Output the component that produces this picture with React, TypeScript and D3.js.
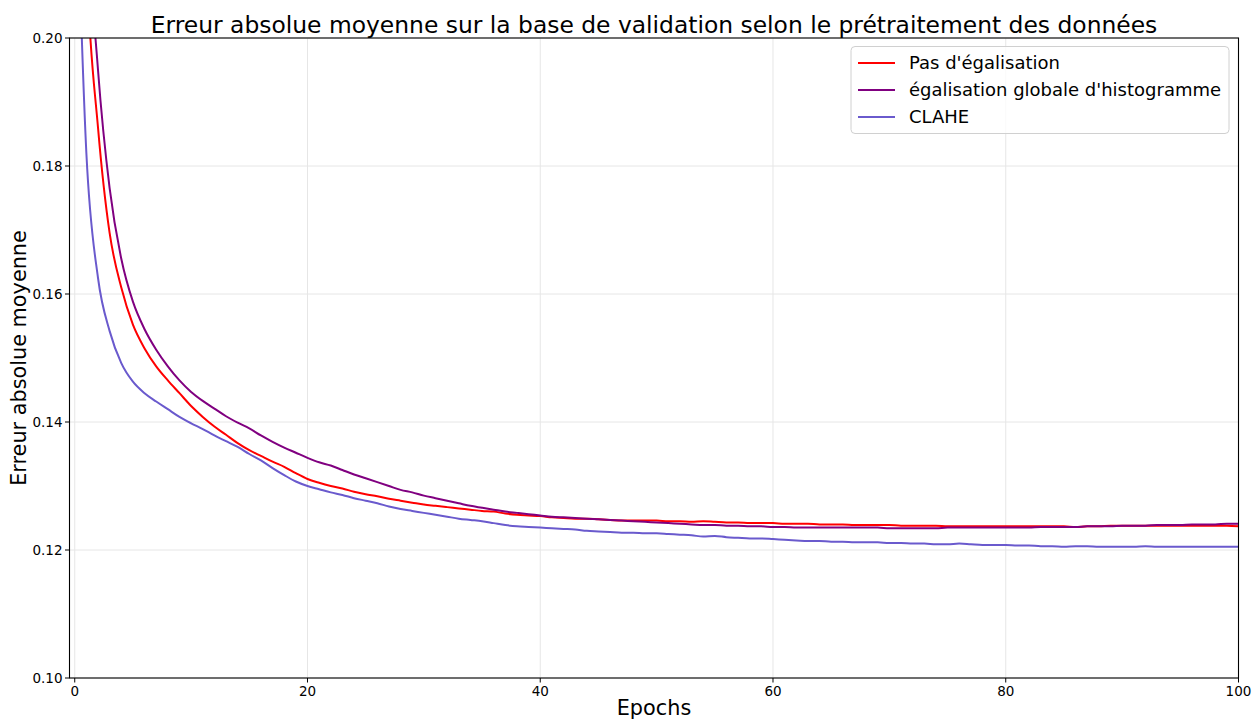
import * as d3 from "d3";

// Validation MAE per epoch for three preprocessing variants.
const epochs = d3.range(0, 101);

const pasEgalisation = [
  0.28, 0.212, 0.186, 0.1695, 0.161, 0.1552, 0.1515, 0.1487, 0.1465, 0.1445,
  0.1425, 0.1408, 0.1393, 0.138, 0.1367, 0.1356, 0.1347, 0.1338, 0.133, 0.132,
  0.1311, 0.1305, 0.13, 0.1296, 0.1291, 0.1287, 0.1284, 0.128, 0.1277, 0.1274,
  0.1271, 0.1269, 0.1267, 0.1265, 0.1263, 0.1261, 0.126, 0.1257, 0.1255, 0.1254,
  0.1253, 0.1251, 0.125, 0.1249, 0.1249, 0.1248, 0.1247, 0.1246, 0.1246, 0.1246,
  0.1246, 0.1245, 0.1245, 0.1244, 0.1245, 0.1244, 0.1243, 0.1243, 0.1242, 0.1242,
  0.1242, 0.1241, 0.1241, 0.1241, 0.124, 0.124, 0.124, 0.1239, 0.1239, 0.1239,
  0.1239, 0.1238, 0.1238, 0.1238, 0.1238, 0.1237, 0.1237, 0.1237, 0.1237, 0.1237,
  0.1237, 0.1237, 0.1237, 0.1237, 0.1237, 0.1237, 0.1236, 0.1237, 0.1237, 0.1238,
  0.1238, 0.1238, 0.1238, 0.1238, 0.1238, 0.1238, 0.1238, 0.1238, 0.1238, 0.1238,
  0.1237,
];

const egalisationGlobale = [
  0.3, 0.225, 0.195, 0.1765, 0.1655, 0.1588, 0.1545, 0.1513, 0.1487, 0.1465,
  0.1447, 0.1433, 0.1421, 0.1409, 0.1399, 0.139, 0.1379, 0.1369, 0.136, 0.1352,
  0.1344, 0.1337, 0.1332, 0.1325, 0.1318, 0.1312, 0.1306, 0.13, 0.1294, 0.129,
  0.1285, 0.1281, 0.1277, 0.1273, 0.1269, 0.1266, 0.1263, 0.126, 0.1258, 0.1256,
  0.1254, 0.1252, 0.1251, 0.125, 0.1249, 0.1248, 0.1247, 0.1246, 0.1245, 0.1244,
  0.1243, 0.1242, 0.1241, 0.124, 0.1239, 0.1239, 0.1238, 0.1238, 0.1237, 0.1237,
  0.1236, 0.1236, 0.1235, 0.1235, 0.1235, 0.1235, 0.1235, 0.1235, 0.1235, 0.1235,
  0.1234, 0.1234, 0.1234, 0.1234, 0.1234, 0.1235, 0.1235, 0.1235, 0.1235, 0.1235,
  0.1235, 0.1235, 0.1235, 0.1236, 0.1236, 0.1236, 0.1236, 0.1237, 0.1237, 0.1237,
  0.1238, 0.1238, 0.1238, 0.1239, 0.1239, 0.1239, 0.124, 0.124, 0.124, 0.1241,
  0.1241,
];

const clahe = [
  0.235, 0.182, 0.1625, 0.1542, 0.1492, 0.1463, 0.1445, 0.1432, 0.142, 0.1408,
  0.1398, 0.1389, 0.1379, 0.137, 0.1361, 0.135, 0.134, 0.1328, 0.1317, 0.1307,
  0.13, 0.1295, 0.129, 0.1286, 0.1281, 0.1277, 0.1273, 0.1268, 0.1264, 0.1261,
  0.1258, 0.1255, 0.1252, 0.1249, 0.1247, 0.1245, 0.1242, 0.1239, 0.1237, 0.1236,
  0.1235, 0.1234, 0.1233, 0.1232, 0.123, 0.1229, 0.1228, 0.1227, 0.1227, 0.1226,
  0.1226, 0.1225, 0.1224, 0.1223, 0.1221, 0.1222, 0.122, 0.1219, 0.1218, 0.1218,
  0.1217, 0.1216, 0.1215, 0.1214, 0.1214, 0.1213, 0.1213, 0.1212, 0.1212, 0.1212,
  0.1211, 0.1211, 0.121, 0.121, 0.1209, 0.1209, 0.121, 0.1209, 0.1208, 0.1208,
  0.1208, 0.1207, 0.1207, 0.1206, 0.1206, 0.1205, 0.1206, 0.1206, 0.1205, 0.1205,
  0.1205, 0.1205, 0.1206, 0.1205, 0.1205, 0.1205, 0.1205, 0.1205, 0.1205, 0.1205,
  0.1205,
];

const seriesNames = ["Pas d'égalisation", "égalisation globale d'histogramme", "CLAHE"];
const seriesColors = ["red", "purple", "slateblue"];
const seriesValues = [pasEgalisation, egalisationGlobale, clahe];

const xTicks = [0, 20, 40, 60, 80, 100];
const yTicks = [0.1, 0.12, 0.14, 0.16, 0.18, 0.2];

const W = 1253;
const H = 719;
const L = 69.5;
const R = 1238.5;
const T = 38;
const B = 678;
const FONT = "DejaVu Sans, sans-serif";

const x = d3.scaleLinear().domain([-0.45, 100]).range([L, R]);
const y = d3.scaleLinear().domain([0.1, 0.2]).range([B, T]);

const line = d3
  .line<number>()
  .x((_, i) => x(epochs[i]))
  .y((d) => y(d))
  .curve(d3.curveMonotoneX);

export default function App() {
  return (
    <svg width={W} height={H} viewBox={`0 0 ${W} ${H}`} style={{ display: "block", position: "absolute", left: 0, top: 0, background: "#fff" }} fontFamily={FONT}>
      <defs>
        <clipPath id="plot">
          <rect x={L} y={T} width={R - L} height={B - T} />
        </clipPath>
      </defs>

      {/* grid */}
      {xTicks.map((t) => (
        <line key={`gx${t}`} x1={x(t)} x2={x(t)} y1={T} y2={B} stroke="#e6e6e6" strokeWidth={1} />
      ))}
      {yTicks.map((t) => (
        <line key={`gy${t}`} x1={L} x2={R} y1={y(t)} y2={y(t)} stroke="#e6e6e6" strokeWidth={1} />
      ))}

      {/* series */}
      <g clipPath="url(#plot)">
        {seriesValues.map((vals, i) => (
          <path key={i} d={line(vals) ?? ""} fill="none" stroke={seriesColors[i]} strokeWidth={2} strokeLinejoin="round" />
        ))}
      </g>

      {/* spines */}
      <rect x={L} y={T} width={R - L} height={B - T} fill="none" stroke="#000" strokeWidth={1.1} />

      {/* x ticks */}
      {xTicks.map((t) => (
        <g key={`tx${t}`}>
          <line x1={x(t)} x2={x(t)} y1={B} y2={B + 4.5} stroke="#000" strokeWidth={1} />
          <text x={x(t)} y={B + 18} textAnchor="middle" fontSize={13.5} fill="#000">
            {t}
          </text>
        </g>
      ))}
      {/* y ticks */}
      {yTicks.map((t) => (
        <g key={`ty${t}`}>
          <line x1={L - 4.5} x2={L} y1={y(t)} y2={y(t)} stroke="#000" strokeWidth={1} />
          <text x={L - 7} y={y(t)} dy="0.35em" textAnchor="end" fontSize={13.5} fill="#000">
            {t.toFixed(2)}
          </text>
        </g>
      ))}

      {/* labels */}
      <text x={(L + R) / 2} y={33} textAnchor="middle" fontSize={23.4} fill="#000">
        Erreur absolue moyenne sur la base de validation selon le prétraitement des données
      </text>
      <text x={(L + R) / 2} y={715} textAnchor="middle" fontSize={20.8} fill="#000">
        Epochs
      </text>
      <text transform={`translate(26,${(T + B) / 2}) rotate(-90)`} textAnchor="middle" fontSize={20.8} fill="#000">
        Erreur absolue moyenne
      </text>

      {/* legend */}
      <g>
        <rect x={851} y={46.5} width={378} height={87} rx={4} fill="#fff" fillOpacity={0.8} stroke="#d0d0d0" strokeWidth={1} />
        {seriesNames.map((name, i) => {
          const cy = 63 + i * 27;
          return (
            <g key={name}>
              <line x1={858} x2={895} y1={cy} y2={cy} stroke={seriesColors[i]} strokeWidth={2} />
              <text x={909} y={cy} dy="0.35em" fontSize={18} fill="#000">
                {name}
              </text>
            </g>
          );
        })}
      </g>
    </svg>
  );
}
